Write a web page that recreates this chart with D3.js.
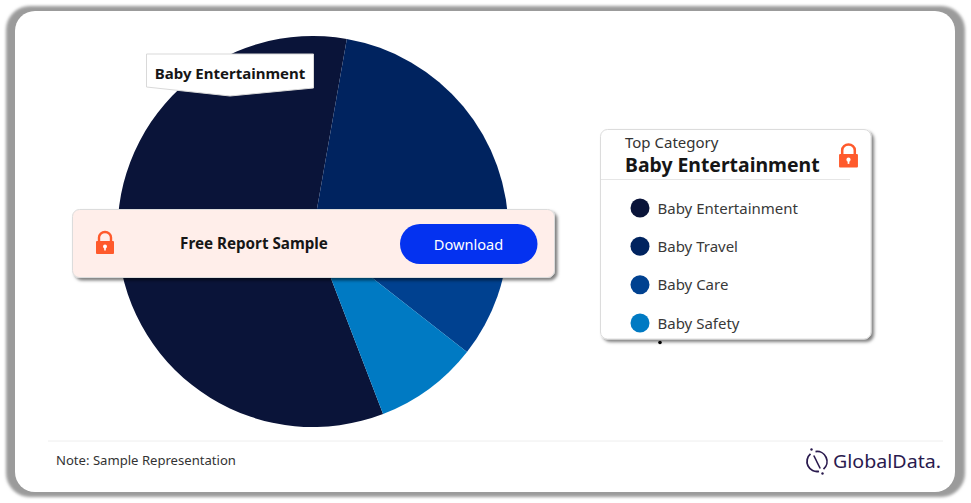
<!DOCTYPE html>
<html>
<head>
<meta charset="utf-8">
<script src="https://cdnjs.cloudflare.com/ajax/libs/d3/7.8.5/d3.min.js"></script>
<style>
html, body { margin: 0; padding: 0; background: #fff; }
svg { display: block; }
text { font-family: "Noto Sans", sans-serif; }
</style>
</head>
<body>
<svg id="chart" width="971" height="503"></svg>
<script>
// values (share of the pie, %)
var categories = ["Baby Entertainment", "Baby Travel", "Baby Care", "Baby Safety"];
var shares = [58.6, 22.4, 10.4, 8.6];
var colors = ["#0a1439", "#00235f", "#004190", "#007ac3"];
var topCategory = "Baby Entertainment";
var noteText = "Note: Sample Representation";

var svg = d3.select("#chart");

// filters
var defs = svg.append("defs");
var frameBlur = defs.append("filter").attr("id", "frameBlur")
    .attr("x", "-5%").attr("y", "-5%").attr("width", "110%").attr("height", "110%");
frameBlur.append("feGaussianBlur").attr("stdDeviation", 1.4);

var cardShadow = defs.append("filter").attr("id", "cardShadow")
    .attr("x", "-5%").attr("y", "-10%").attr("width", "110%").attr("height", "125%");
cardShadow.append("feDropShadow")
    .attr("dx", 2.5).attr("dy", 2.5).attr("stdDeviation", 1.5)
    .attr("flood-color", "#000").attr("flood-opacity", 0.5);

// outer frame
svg.append("rect").attr("x", 6).attr("y", 6).attr("width", 959).attr("height", 491)
    .attr("rx", 24).attr("fill", "#9b9b9b").attr("filter", "url(#frameBlur)");
svg.append("rect").attr("x", 15).attr("y", 11).attr("width", 940).attr("height", 481)
    .attr("rx", 20).attr("fill", "#fff");

// pie
var cx = 313, cy = 231.5, radius = 195.5;
var startDeg = 159;
var pie = d3.pie().sort(null)
    .startAngle(startDeg * Math.PI / 180)
    .endAngle((startDeg + 360) * Math.PI / 180);
var arc = d3.arc().innerRadius(0).outerRadius(radius);

svg.append("g").attr("transform", "translate(" + cx + "," + cy + ")")
    .selectAll("path")
    .data(pie(shares))
    .enter().append("path")
    .attr("d", arc)
    .attr("fill", function(d, i) { return colors[i]; });

// hover label on the pie
svg.append("polygon")
    .attr("points", "146.5,54 313.5,54 313.5,88 230,96 146.5,87")
    .attr("fill", "#fff").attr("stroke", "#d9d9d9").attr("stroke-width", 1);
svg.append("text").attr("x", 230).attr("y", 79)
    .attr("text-anchor", "middle").attr("font-size", 15).attr("font-weight", 700)
    .attr("fill", "#161616").text(topCategory);

// padlock icon, shared by banner and legend
function drawLock(x, y, s) {
    var g = svg.append("g").attr("transform", "translate(" + x + "," + y + ") scale(" + s + ")");
    g.append("path").attr("d", "M-6,-1 V-5.5 A6,5.5 0 0 1 6,-5.5 V-1")
        .attr("fill", "none").attr("stroke", "#ff5a2c").attr("stroke-width", 2.4);
    g.append("rect").attr("x", -9).attr("y", -2).attr("width", 18).attr("height", 13)
        .attr("rx", 1).attr("fill", "#ff5a2c");
    g.append("circle").attr("cx", 0).attr("cy", 3.5).attr("r", 2).attr("fill", "#fff");
    g.append("rect").attr("x", -0.8).attr("y", 4).attr("width", 1.6).attr("height", 3.5).attr("fill", "#fff");
}

// banner
svg.append("rect").attr("x", 72.5).attr("y", 209.5).attr("width", 482).attr("height", 68)
    .attr("rx", 7).attr("fill", "#ffeeea").attr("stroke", "#dcdcdc").attr("stroke-width", 1)
    .attr("filter", "url(#cardShadow)");
drawLock(105, 243, 1);
svg.append("text").attr("x", 254).attr("y", 248.5)
    .attr("text-anchor", "middle").attr("font-size", 15.2).attr("font-weight", 700)
    .attr("fill", "#161616").text("Free Report Sample");
svg.append("rect").attr("x", 400).attr("y", 224).attr("width", 137.5).attr("height", 40)
    .attr("rx", 20).attr("fill", "#0432f0");
svg.append("text").attr("x", 468.5).attr("y", 249.5)
    .attr("text-anchor", "middle").attr("font-size", 14.6)
    .attr("fill", "#fff").text("Download");

// legend card
svg.append("rect").attr("x", 600.5).attr("y", 129.5).attr("width", 270.5).attr("height", 209.5)
    .attr("rx", 7).attr("fill", "#fff").attr("stroke", "#dcdcdc").attr("stroke-width", 1)
    .attr("filter", "url(#cardShadow)");
svg.append("text").attr("x", 625).attr("y", 148)
    .attr("font-size", 15).attr("fill", "#333").text("Top Category");
svg.append("text").attr("x", 625).attr("y", 172)
    .attr("font-size", 19.4).attr("font-weight", 700).attr("fill", "#161616").text(topCategory);
svg.append("line").attr("x1", 601).attr("x2", 850).attr("y1", 179.5).attr("y2", 179.5)
    .attr("stroke", "#e6e6e6");
drawLock(848.5, 156, 1.05);

var legendY = d3.scalePoint().domain(categories).range([208, 323]);
var legend = svg.append("g").selectAll("g")
    .data(categories)
    .enter().append("g")
    .attr("transform", function(d) { return "translate(640," + legendY(d) + ")"; });
legend.append("circle").attr("r", 9.5).attr("fill", function(d, i) { return colors[i]; });
legend.append("text").attr("x", 17.5).attr("y", 5.5)
    .attr("font-size", 15).attr("fill", "#393939")
    .text(function(d) { return d; });

svg.append("circle").attr("cx", 660).attr("cy", 342.5).attr("r", 1.8).attr("fill", "#000");

// footer
svg.append("line").attr("x1", 48).attr("x2", 943).attr("y1", 441).attr("y2", 441)
    .attr("stroke", "#eeeeee");
svg.append("text").attr("x", 56).attr("y", 465)
    .attr("font-size", 13.1).attr("fill", "#333").text(noteText);

// logo
var logoColor = "#2a1a4e";
var logo = svg.append("g").attr("transform", "translate(817,461.5)");
logo.append("path").attr("d", "M-6.5,-7.6 A10,10 0 0 0 2,9.8")
    .attr("fill", "none").attr("stroke", logoColor).attr("stroke-width", 1.8);
logo.append("path").attr("d", "M-1.5,-9.9 A10,10 0 0 1 6.5,7.6")
    .attr("fill", "none").attr("stroke", logoColor).attr("stroke-width", 1.8);
logo.append("line").attr("x1", -3.2).attr("y1", -6).attr("x2", 3.2).attr("y2", 7)
    .attr("stroke", logoColor).attr("stroke-width", 1.6);
logo.append("circle").attr("cx", -5.5).attr("cy", -12).attr("r", 1.2).attr("fill", logoColor);
logo.append("circle").attr("cx", 5.5).attr("cy", 12).attr("r", 1.2).attr("fill", logoColor);
svg.append("text").attr("x", 833).attr("y", 467.5)
    .attr("font-size", 18.5).attr("fill", logoColor).attr("textLength", 108)
    .attr("lengthAdjust", "spacingAndGlyphs").text("GlobalData.");
</script>
</body>
</html>
